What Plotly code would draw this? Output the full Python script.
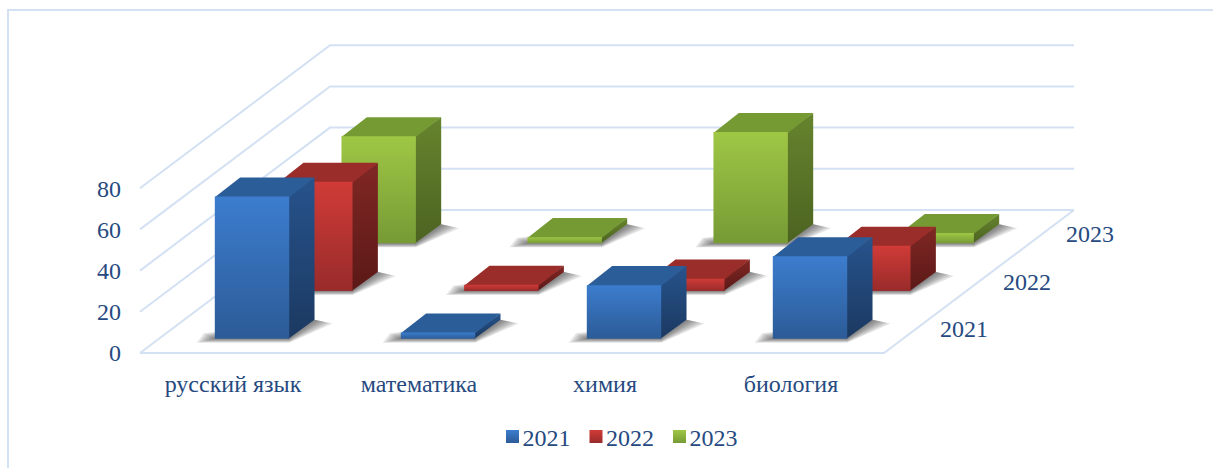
import plotly.graph_objects as go

categories = ["русский язык", "математика", "химия", "биология"]
series_names = ["2021", "2022", "2023"]
values_2021 = [69, 3, 26, 40]
values_2022 = [53, 3, 6, 22]
values_2023 = [52, 3, 54, 5]
value_ticks = [0, 20, 40, 60, 80]

series_values = [values_2021, values_2022, values_2023]

# Chart-box geometry in pixels
W, H = 1213, 468
PLOT_L, PLOT_R, PLOT_T, PLOT_B = 130, 1200, 30, 367
ORIGIN_X, ORIGIN_Y = 140, 353
PX_PER_CAT = 186.0
PX_PER_VAL = 2.06
DEPTH_DX_PX, DEPTH_DY_PX = 63.33, 47.67
DX = DEPTH_DX_PX / PX_PER_CAT      # x-axis units per depth row
DY = DEPTH_DY_PX / PX_PER_VAL      # y-axis units per depth row
GAP = 0.3
SIZE = 0.4
OVERLAP_X = 0.8 / PX_PER_CAT       # hides anti-aliasing seams between faces
OVERLAP_Y = 0.8 / PX_PER_VAL

GRID = "#D3E1F3"
TEXT = "#264A7F"
FONT = "Liberation Serif"

styles = [
    dict(front=("#2C5B97", "#3C7DCE"), top="#2B5D98", side=("#1B3961", "#27538C")),
    dict(front=("#982B2B", "#D03B37"), top="#9A2C2A", side=("#5B1917", "#802724")),
    dict(front=("#769A35", "#9FC745"), top="#759A34", side=("#4C6321", "#66842E")),
]
SHADOW_LAYERS = [18, 15, 12, 9, 6, 3]


def proj(cat, depth, val):
    return cat + depth * DX, val + depth * DY


def poly(points):
    xs = [p[0] for p in points] + [points[0][0]]
    ys = [p[1] for p in points] + [points[0][1]]
    return xs, ys


fig = go.Figure()


def add_line(points):
    xs, ys = poly(points)
    fig.add_trace(go.Scatter(x=xs[:-1], y=ys[:-1], mode="lines", showlegend=False,
                             hoverinfo="skip", line=dict(color=GRID, width=2)))


n_cat, n_rows = len(categories), len(series_names)
# Walls and floor
for v in value_ticks:
    add_line([proj(0, 0, v), proj(0, n_rows, v), proj(n_cat, n_rows, v)])
add_line([proj(0, 0, 0), proj(n_cat, 0, 0), proj(n_cat, n_rows, 0)])

# Floor shadows
for row in range(n_rows):
    for c in range(n_cat):
        x0 = c + GAP
        d0 = row + GAP
        d1 = d0 + SIZE
        for e_px in SHADOW_LAYERS:
            e = e_px / PX_PER_CAT
            low = e_px * 0.22 / PX_PER_VAL
            left_up = proj(x0 - e * 0.6, d0, e_px * 0.3 / PX_PER_VAL)
            a = proj(x0 - e, d0, -low)
            b = proj(x0 + SIZE, d0, -low)
            cc = proj(x0 + SIZE + e, d1, -low)
            dd = proj(x0 + SIZE, d1, 0)
            xs, ys = poly([left_up, a, b, cc, dd])
            fig.add_trace(go.Scatter(x=xs, y=ys, mode="lines", fill="toself",
                                     fillcolor="rgba(40,40,40,0.12)", line=dict(width=0),
                                     showlegend=False, hoverinfo="skip"))


def add_face(points, colors):
    xs, ys = poly(points)
    kw = dict(x=xs, y=ys, mode="lines", fill="toself", line=dict(width=0),
              showlegend=False, hoverinfo="skip")
    if isinstance(colors, tuple):
        kw["fillgradient"] = dict(type="vertical", colorscale=[[0, colors[0]], [1, colors[1]]])
    else:
        kw["fillcolor"] = colors
    fig.add_trace(go.Scatter(**kw))


# Bars, back row first
for row in reversed(range(n_rows)):
    st = styles[row]
    for c, val in enumerate(series_values[row]):
        x0, x1 = c + GAP, c + GAP + SIZE
        d0, d1 = row + GAP, row + GAP + SIZE
        add_face([proj(x1 - OVERLAP_X, d0, 0), proj(x1, d1, 0), proj(x1, d1, val),
                  proj(x1 - OVERLAP_X, d0, val)], st["side"])
        add_face([proj(x0, d0, val - OVERLAP_Y), proj(x1, d0, val - OVERLAP_Y),
                  proj(x1, d1, val), proj(x0, d1, val)], st["top"])
        add_face([proj(x0, d0, 0), proj(x1, d0, 0), proj(x1, d0, val), proj(x0, d0, val)], st["front"])

# Legend entries
for name, st in zip(series_names, styles):
    fig.add_trace(go.Scatter(x=[None], y=[None], mode="markers", name=name,
                             marker=dict(symbol="square", size=13, color=st["front"][1],
                                         gradient=dict(type="vertical", color=st["front"][0]),
                                         line=dict(width=0))))

annotations = [
    dict(x=proj(n_cat, i + 0.5, 0)[0], y=proj(n_cat, i + 0.5, 0)[1], text=name, showarrow=False,
         xshift=48, yshift=0, font=dict(family=FONT, size=24, color=TEXT))
    for i, name in enumerate(series_names)
]

plot_w = PLOT_R - PLOT_L
plot_h = PLOT_B - PLOT_T
fig.update_layout(
    width=W, height=H, autosize=False,
    margin=dict(l=PLOT_L, r=W - PLOT_R, t=PLOT_T, b=H - PLOT_B, pad=0),
    paper_bgcolor="white", plot_bgcolor="white",
    font=dict(family=FONT, size=24, color=TEXT),
    xaxis=dict(range=[(PLOT_L - ORIGIN_X) / PX_PER_CAT, (PLOT_R - ORIGIN_X) / PX_PER_CAT],
               tickmode="array", tickvals=[i + 0.5 for i in range(n_cat)], ticktext=categories,
               showgrid=False, zeroline=False, showline=False, ticks="", fixedrange=True),
    yaxis=dict(range=[(ORIGIN_Y - PLOT_B) / PX_PER_VAL, (ORIGIN_Y - PLOT_T) / PX_PER_VAL],
               tickmode="array", tickvals=value_ticks, ticklabelstandoff=8,
               showgrid=False, zeroline=False, showline=False, ticks="", fixedrange=True),
    legend=dict(orientation="h", xref="container", yref="container",
                x=622 / W, xanchor="center", y=1 - 437 / H, yanchor="middle",
                font=dict(family=FONT, size=24, color=TEXT), itemwidth=30,
                bgcolor="rgba(0,0,0,0)"),
    annotations=annotations,
    shapes=[dict(type="path", xref="paper", yref="paper",
                 path=f"M {(W - PLOT_L) / plot_w} {(PLOT_B - 10) / plot_h} "
                      f"L {(8 - PLOT_L) / plot_w} {(PLOT_B - 10) / plot_h} "
                      f"L {(8 - PLOT_L) / plot_w} {(PLOT_B - H) / plot_h}",
                 line=dict(color=GRID, width=2))],
)

# Tighten the legend spacing, which Plotly's options cannot go below
POST = """
document.body.style.margin='0';document.body.style.overflow='hidden';
document.querySelectorAll('.legend .traces').forEach(function(g,i){
  var t=g.getAttribute('transform')||'';
  var m=t.match(/translate\\(([-\\d.]+)[ ,]*([-\\d.]*)\\)/);
  if(m){g.setAttribute('transform','translate('+(parseFloat(m[1])-9.5*i)+','+(parseFloat(m[2])||0)+')');}
});
document.querySelectorAll('.legend .legendsymbols').forEach(function(g){
  g.setAttribute('transform','translate(10,0)');
});
"""
fig.write_html("out.html", config=dict(displayModeBar=False), post_script=POST)
